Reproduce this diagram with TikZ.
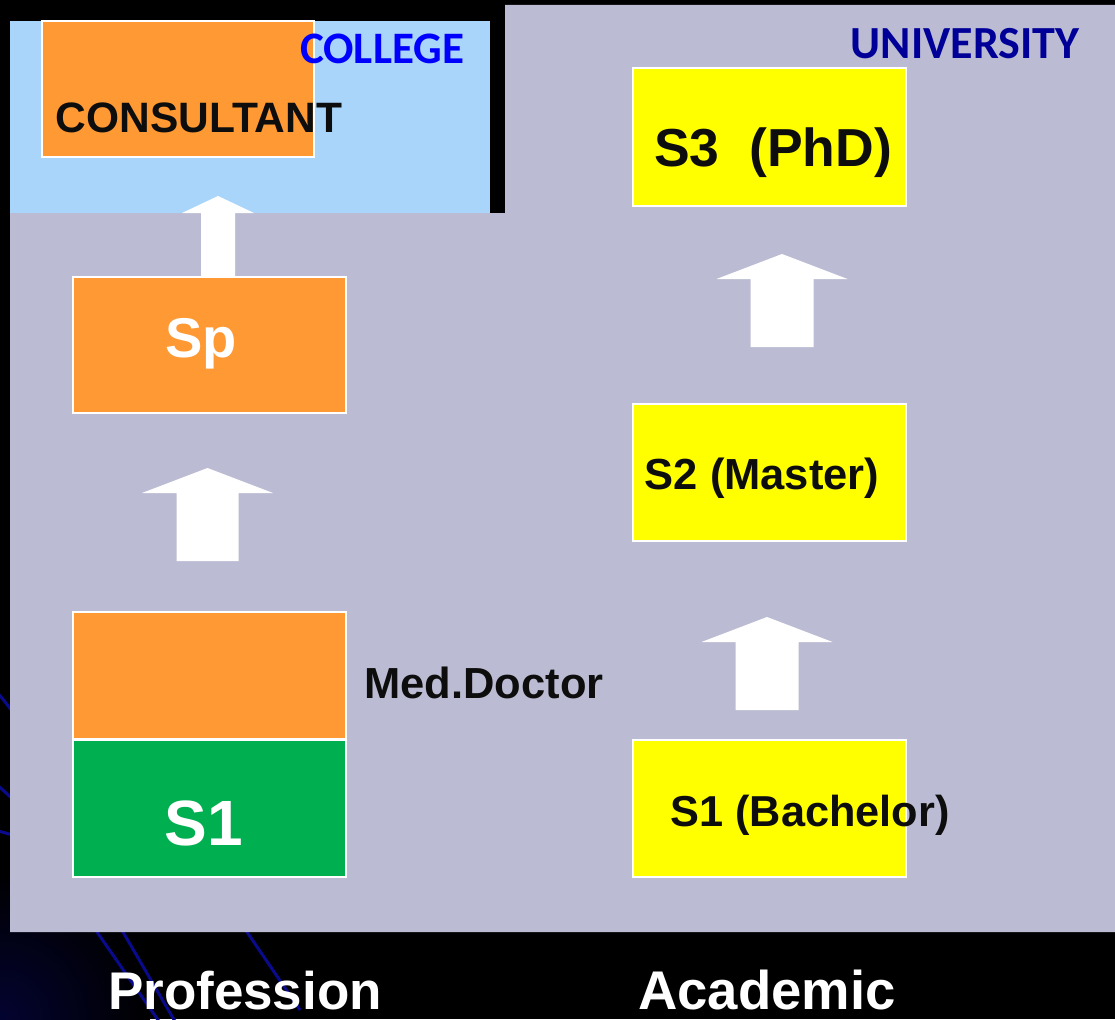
\documentclass[tikz,border=0pt]{standalone}
\usepackage{fontspec}
\setmainfont{Liberation Sans}
\newfontfamily\calfont{Carlito}
\definecolor{panelgrey}{HTML}{BBBCD3}
\definecolor{collegeblue}{HTML}{A9D5FB}
\definecolor{boxorange}{HTML}{FF9933}
\definecolor{boxgreen}{HTML}{00AF50}
\definecolor{boxyellow}{HTML}{FFFF00}
\definecolor{inkblack}{HTML}{0D0D0D}
\definecolor{unidark}{HTML}{000099}
\definecolor{linenavy}{HTML}{0A0A8C}
\newcommand{\fsz}[1]{\fontsize{#1}{#1}\selectfont}
% block arrow: tip x, tip y, head base y, bottom y, half head, half shaft
\newcommand{\blockup}[6]{%
  \fill[white] (#1,#2) -- ({#1+#5},#3) -- ({#1+#6},#3) -- ({#1+#6},#4)
    -- ({#1-#6},#4) -- ({#1-#6},#3) -- ({#1-#5},#3) -- cycle;}
\tikzset{
  box/.style={draw=white, line width=1.5pt, inner sep=0pt, outer sep=0pt,
    minimum width=273pt},
  lbl/.style={inner sep=0pt, anchor=base, font=\bfseries},
}
\begin{document}
\begin{tikzpicture}[x=1pt,y=-1pt]
    \useasboundingbox (0,0) rectangle (1115,1019);
    \fill[black] (0,0) rectangle (1115,1019);

    % background glow and lines
    \shade[inner color=linenavy!35!black, outer color=black] (0,1019) circle (150);
    \draw[linenavy, line width=3pt] (-5,690) .. controls (60,760) and (80,900) .. (97,932) -- (165,1030);
    \draw[linenavy, line width=3pt] (-5,783) .. controls (60,840) and (100,900) .. (123,932) -- (180,1030);
    \draw[linenavy, line width=3pt] (-5,830) .. controls (100,860) and (200,880) .. (247,932) -- (300,1010);

    % panels
    \fill[panelgrey] (10,213) -- (505,213) -- (505,5) -- (1115,5) -- (1115,932) -- (10,932) -- cycle;
    \fill[collegeblue] (10,21) rectangle (490,213);

    % boxes
    \node[box, fill=boxorange, minimum width=272pt, minimum height=136pt] (consultantbox) at (178,89) {};
    \node[box, fill=boxorange, minimum height=136pt] (spbox) at (209.5,345) {};
    \node[box, fill=boxorange, minimum height=127pt] (medbox) at (209.5,675.5) {};
    \node[box, fill=boxgreen, minimum height=137pt] (sonebox) at (209.5,808.5) {};
    \node[box, fill=boxyellow, minimum height=138pt] (sthreebox) at (769.5,137) {};
    \node[box, fill=boxyellow, minimum height=137pt] (stwobox) at (769.5,472.5) {};
    \node[box, fill=boxyellow, minimum height=137pt] (bachelorbox) at (769.5,808.5) {};

    % arrows
    \blockup{218}{196}{213}{277}{36}{17}
    \blockup{207.5}{468}{493}{561}{65.5}{31}
    \blockup{782}{254}{279}{347}{65.5}{31.5}
    \blockup{767}{617}{642}{710}{65.5}{31.5}

    % labels
    \node[lbl, text=blue, font=\calfont\bfseries\fsz{45}] (college) at (382,64) {COLLEGE};
    \node[lbl, text=unidark, font=\calfont\bfseries\fsz{46}] (university) at (965,59) {UNIVERSITY};
    \node[lbl, text=inkblack, font=\bfseries\fsz{42.5}] (consultant) at (199,133) {CONSULTANT};
    \node[lbl, text=inkblack, font=\bfseries\fsz{53.5}] (sthree) at (773,167) {S3\ \ (PhD)};
    \node[lbl, text=white, font=\bfseries\fsz{56}] (sp) at (201,357) {Sp};
    \node[lbl, text=inkblack, font=\bfseries\fsz{43.5}] (stwo) at (762,489) {S2 (Master)};
    \node[lbl, text=inkblack, font=\bfseries\fsz{43.5}] (meddoctor) at (484,698) {Med.Doctor};
    \node[lbl, text=white, font=\bfseries\fsz{64}] (sone) at (204,845) {S1};
    \node[lbl, text=inkblack, font=\bfseries\fsz{43.3}] (bachelor) at (810,826) {S1 (Bachelor)};
    \node[lbl, text=white, font=\bfseries\fsz{53}] (profession) at (245,1009) {Profession};
    \node[lbl, text=white, font=\bfseries\fsz{54.5}] (academic) at (767,1009) {Academic};
\end{tikzpicture}
\end{document}
